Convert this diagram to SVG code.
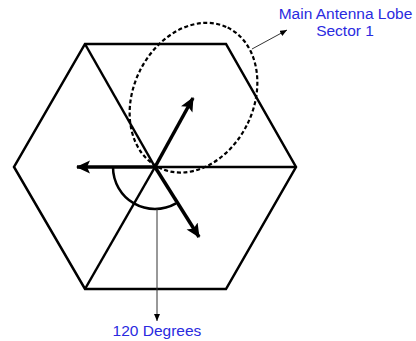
<svg xmlns="http://www.w3.org/2000/svg" width="416" height="341" viewBox="0 0 416 341">
<style>
.hex{fill:none;stroke:#000;stroke-width:2.5;stroke-linejoin:miter}
.thin{fill:none;stroke:#000;stroke-width:2.5}
.arr{fill:none;stroke:#000;stroke-width:3.5;marker-end:url(#big)}
.ptr{fill:none;stroke:#333;stroke-width:1;marker-end:url(#small)}
.lobe{fill:none;stroke:#000;stroke-width:2.2;stroke-dasharray:4 2.5}
.lbl{font-family:"Liberation Sans",Arial,sans-serif;font-size:15.5px;fill:#2a2ae0;text-anchor:middle}
</style>
<defs>
<marker id="big" markerUnits="userSpaceOnUse" markerWidth="16" markerHeight="14" refX="13" refY="6.5" orient="auto">
<path d="M0,0 L14,6.5 L0,13 L3,6.5 Z" fill="#000"/>
</marker>
<marker id="small" markerUnits="userSpaceOnUse" markerWidth="8" markerHeight="8" refX="7" refY="3" orient="auto">
<path d="M0,0 L7,3 L0,6 Z" fill="#000"/>
</marker>
</defs>
<g id="hexagon">
<polygon class="hex" points="85,44 226,44 296,167 226,289 85,289 14,167"/>
</g>
<g id="connectors">
<line class="thin" x1="155" y1="167" x2="85" y2="44"/>
<line class="thin" x1="155" y1="167" x2="85" y2="289"/>
<line class="thin" x1="155" y1="167" x2="296" y2="167"/>
<line class="arr" x1="155" y1="167" x2="77" y2="167"/>
<line class="arr" x1="155" y1="167" x2="193" y2="98"/>
<line class="arr" x1="155" y1="167" x2="199" y2="237"/>
<path class="thin" d="M113,167 A42,42 0 0 0 176,203.4"/>
<line class="ptr" x1="157" y1="209" x2="157" y2="321"/>
<line class="ptr" x1="252" y1="49" x2="287" y2="30"/>
</g>
<g id="lobe">
<ellipse class="lobe" cx="193.5" cy="97.7" rx="78" ry="60" transform="rotate(-64 193.5 97.7)"/>
</g>
<g id="label-lobe">
<text class="lbl" x="345.5" y="19">Main Antenna Lobe</text>
<text class="lbl" x="345" y="36">Sector 1</text>
</g>
<g id="label-angle">
<text class="lbl" x="157" y="336">120 Degrees</text>
</g>
</svg>
